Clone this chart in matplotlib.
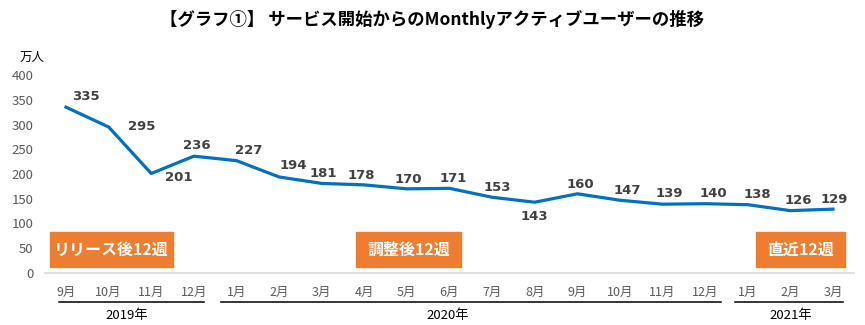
import matplotlib.pyplot as plt
import matplotlib.transforms as mtransforms
from matplotlib.patches import Rectangle

plt.rcParams['font.family'] = ['Noto Sans CJK JP', 'DejaVu Sans']

# data
months = ['9月', '10月', '11月', '12月', '1月', '2月', '3月', '4月', '5月', '6月',
          '7月', '8月', '9月', '10月', '11月', '12月', '1月', '2月', '3月']
users = [335, 295, 201, 236, 227, 194, 181, 178, 170, 171,
         153, 143, 160, 147, 139, 140, 138, 126, 129]
years = ['2019年', '2020年', '2021年']
year_spans = [(-0.17, 3.23), (3.64, 15.36), (15.7, 18.24)]
year_label_x = [1.43, 8.97, 17.0]
periods = ['リリース後12週', '調整後12週', '直近12週']

# label offsets in points (dx, dy)
label_off = [(14, 8), (24, 0), (20, -3), (2, 8), (9, 7), (10, 8), (1, 7), (-2, 7),
             (1, 7), (3, 7), (4, 7), (0, -10), (2, 7), (5, 7), (5, 8), (6, 7),
             (7, 7), (6, 7), (1, 7)]

blue = '#0070C0'
orange = '#ED7D31'
grey = '#595959'

fig = plt.figure(figsize=(8.65, 3.25), dpi=100)
ax = fig.add_axes([44.7 / 865, 1 - 273 / 325, (854.3 - 44.7) / 865, (273 - 75) / 325])

x = list(range(len(users)))
ax.plot(x, users, color=blue, lw=2.3, solid_joinstyle='round', zorder=3)
for i, v in enumerate(users):
    dx, dy = label_off[i]
    ax.annotate(str(v), (i, v), xytext=(dx, dy), textcoords='offset points',
                ha='center', va='center', fontsize=9.5, fontweight='bold',
                color='#404040', family=['DejaVu Sans'])

ax.set_xlim(-0.5, len(users) - 0.5)
ax.set_ylim(0, 400)
ax.set_yticks(range(0, 401, 50))
ax.tick_params(axis='y', length=0, pad=8, labelsize=9.5, labelcolor=grey)
ax.set_xticks(x)
ax.set_xticklabels(months)
ax.tick_params(axis='x', length=0, pad=9, labelsize=9, labelcolor=grey)
for s in ['top', 'right', 'left']:
    ax.spines[s].set_visible(False)
ax.spines['bottom'].set_color('#D9D9D9')
ax.spines['bottom'].set_linewidth(1.2)

# year groups under the month labels
trans = mtransforms.blended_transform_factory(ax.transData, fig.transFigure)
for name, (x0, x1), lx in zip(years, year_spans, year_label_x):
    ax.plot([x0, x1], [1 - 302 / 325] * 2, color='black', lw=1.1,
            transform=trans, clip_on=False)
    ax.text(lx, 1 - 316 / 325, name, transform=trans, ha='center', va='center',
            fontsize=9.5, color='black')

# period boxes
box_px = [(50, 173), (356, 461), (756, 845)]
for label, (px0, px1) in zip(periods, box_px):
    fig.patches.append(Rectangle((px0 / 865, 1 - 267 / 325), (px1 - px0) / 865, 35 / 325,
                                 transform=fig.transFigure, color=orange, zorder=5))
    fig.text((px0 + px1) / 2 / 865, 1 - 249.5 / 325, label, ha='center', va='center',
             fontsize=11.5, fontweight='bold', color='white', zorder=6)

fig.text(20 / 865, 1 - 57 / 325, '万人', ha='left', va='center', fontsize=9, color='black')
fig.text(432 / 865, 1 - 19 / 325, '【グラフ①】 サービス開始からのMonthlyアクティブユーザーの推移',
         ha='center', va='center', fontsize=12.5, fontweight='bold', color='black')

fig.savefig('out.png', dpi=100)
